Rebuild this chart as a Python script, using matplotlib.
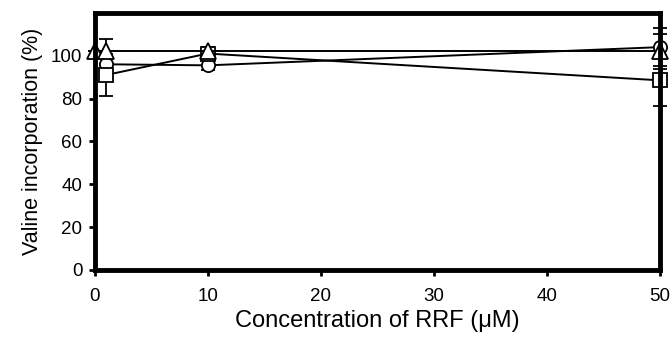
import matplotlib.pyplot as plt

plt.rcParams['font.family'] = ['Liberation Sans', 'DejaVu Sans']

# RRF concentration (uM)
conc_tri = [0, 1, 10, 50]
val_tri = [102, 102, 102, 102]
err_tri = [0, 6, 0, 8]

conc_circ = [1, 10, 50]
val_circ = [96, 95.5, 104]
err_circ = [0, 2, 9]

conc_sq = [1, 10, 50]
val_sq = [91, 101, 88.5]
err_sq = [10, 3, 12]

fig = plt.figure(figsize=(6.72, 3.39), dpi=100)
ax = fig.add_axes([0.141, 0.204, 0.841, 0.758])

style = dict(color='black', linewidth=1.4, markerfacecolor='white',
             markeredgecolor='black', markeredgewidth=1.3, capsize=5,
             elinewidth=1.3, capthick=1.3, clip_on=False)

ax.errorbar(conc_circ, val_circ, yerr=err_circ, marker='o', markersize=9.5, **style)
ax.errorbar(conc_sq, val_sq, yerr=err_sq, marker='s', markersize=9.5, **style)
ax.errorbar(conc_tri, val_tri, yerr=err_tri, marker='^', markersize=11, **style)

ax.set_xlim(0, 50)
ax.set_ylim(0, 120)
ax.set_xticks([0, 10, 20, 30, 40, 50])
ax.set_yticks([0, 20, 40, 60, 80, 100])

for s in ax.spines.values():
    s.set_linewidth(3.5)
ax.tick_params(direction='out', length=4, width=2, labelsize=13.5)
ax.tick_params(axis='x', pad=9)
ax.tick_params(axis='y', pad=5)

ax.set_xlabel('Concentration of RRF (\u03bcM)', fontsize=17, labelpad=4)
ax.set_ylabel('Valine incorporation (%)', fontsize=15.5, labelpad=6)

fig.savefig('out.png', dpi=100)
